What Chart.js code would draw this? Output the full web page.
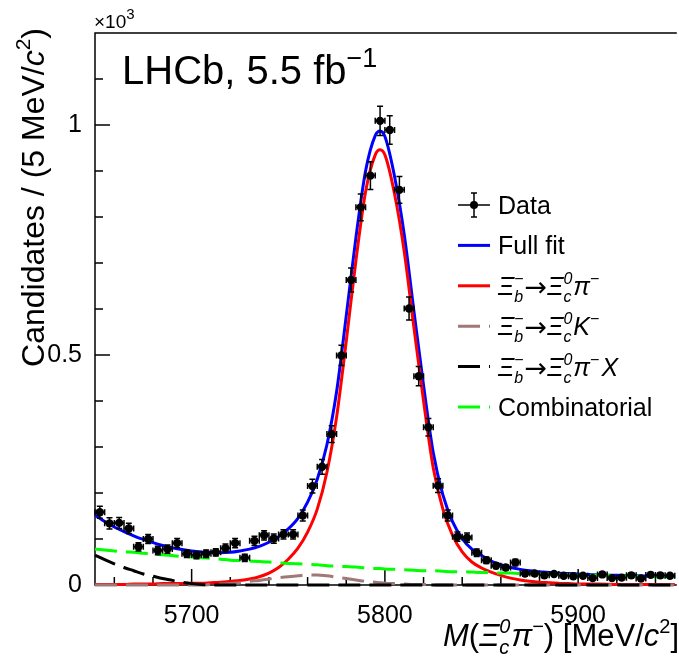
<!DOCTYPE html>
<html lang="en">
<head>
<meta charset="UTF-8">
<title>Xi_b- mass fit</title>
<script src="https://cdn.jsdelivr.net/npm/chart.js"></script>
<style>
  html, body { margin: 0; padding: 0; background: #fff; }
  #wrap { width: 679px; height: 656px; }
</style>
</head>
<body>
<div id="wrap"><canvas id="massChart" width="679" height="656"></canvas></div>
<script>
// binned data (5 MeV bins)
const binCenters = [
  5652.5, 5657.5, 5662.5, 5667.5, 5672.5, 5677.5, 5682.5, 5687.5, 5692.5, 5697.5,
  5702.5, 5707.5, 5712.5, 5717.5, 5722.5, 5727.5, 5732.5, 5737.5, 5742.5, 5747.5,
  5752.5, 5757.5, 5762.5, 5767.5, 5772.5, 5777.5, 5782.5, 5787.5, 5792.5, 5797.5,
  5802.5, 5807.5, 5812.5, 5817.5, 5822.5, 5827.5, 5832.5, 5837.5, 5842.5, 5847.5,
  5852.5, 5857.5, 5862.5, 5867.5, 5872.5, 5877.5, 5882.5, 5887.5, 5892.5, 5897.5,
  5902.5, 5907.5, 5912.5, 5917.5, 5922.5, 5927.5, 5932.5, 5937.5, 5942.5, 5947.5
];
const counts = [
  158, 134, 135, 123, 83, 100, 75, 78, 91, 68,
  65, 68, 71, 80, 91, 59, 96, 108, 101, 110,
  110, 151, 215, 257, 328, 499, 663, 821, 890, 1009,
  989, 859, 601, 454, 343, 216, 151, 105, 103, 70,
  54, 42, 38, 49, 25, 25, 21, 24, 20, 19,
  20, 15, 23, 15, 16, 21, 14, 22, 21, 20
];
const countErrs = [
  13, 12, 12, 11, 9, 10, 9, 9, 10, 8,
  8, 8, 8, 9, 10, 8, 10, 10, 10, 10,
  10, 12, 15, 16, 18, 22, 26, 29, 30, 32,
  31, 29, 25, 21, 19, 15, 12, 10, 10, 8,
  7, 6, 6, 7, 5, 5, 5, 5, 4, 4,
  4, 4, 5, 4, 4, 5, 4, 5, 5, 4
];
const binHalf = 2.5;

// fit curves
const curveX = [
  5650, 5655, 5660, 5665, 5670, 5675, 5680, 5685, 5690, 5695,
  5700, 5705, 5710, 5715, 5720, 5725, 5730, 5735, 5740, 5745,
  5750, 5755, 5760, 5765, 5770, 5775, 5780, 5785, 5790, 5795,
  5797.5, 5800, 5805, 5810, 5815, 5820, 5825, 5830, 5835, 5840,
  5845, 5850, 5855, 5860, 5865, 5870, 5875, 5880, 5885, 5890,
  5895, 5900, 5910, 5920, 5930, 5940, 5950
];
const fullFit = [
  152, 138, 126, 116, 107, 99, 92, 86, 81, 77,
  74, 72, 71, 70, 71, 74, 78, 84, 93, 105,
  122, 145, 180, 230, 305, 420, 585, 755, 900, 977,
  987, 975, 888, 762, 596, 434, 288, 196, 138, 101,
  78, 64, 52, 44, 38, 34, 31, 29, 27, 25.5,
  25, 24, 22, 21, 20, 19, 18
];
const signal = [
  1, 1, 1, 1, 2, 2, 2, 3, 3, 3,
  4, 4, 5, 6, 8, 10, 13, 18, 26, 38,
  56, 80, 115, 165, 245, 365, 530, 705, 855, 935,
  946, 935, 850, 725, 560, 400, 255, 165, 108, 72,
  50, 37, 28, 21, 15, 11, 8, 6, 5, 4,
  3, 2, 2, 1, 1, 1, 1
];
const kaonMisid = [
  0, 0, 0, 0, 0, 0, 0, 0, 0, 0,
  0, 0, 1, 2, 3, 5, 8, 10, 13, 16,
  18, 20, 22, 22, 20, 17, 14, 11, 8, 6,
  5, 4, 3, 2, 1, 1, 0, 0, 0, 0,
  0, 0, 0, 0, 0, 0, 0, 0, 0, 0,
  0, 0, 0, 0, 0, 0, 0
];
const partReco = [
  65, 55, 46, 38, 31, 24, 19, 14, 10, 6,
  3, 1, 0, 0, 0, 0, 0, 0, 0, 0,
  0, 0, 0, 0, 0, 0, 0, 0, 0, 0,
  0, 0, 0, 0, 0, 0, 0, 0, 0, 0,
  0, 0, 0, 0, 0, 0, 0, 0, 0, 0,
  0, 0, 0, 0, 0, 0, 0
];
const combinatorial = [
  78, 76, 74, 72, 71, 69, 67, 66, 64, 62,
  61, 59, 58, 56, 54, 53, 52, 51, 50, 48,
  47, 46, 45, 44, 42, 41, 40, 39, 37, 36,
  36, 35, 34, 33, 32, 31, 31, 30, 29, 29,
  28, 27, 27, 26, 26, 25, 25, 24, 24, 23,
  23, 22, 21, 20, 19, 18, 18
];

// axes
const xMajorTicks = [5700, 5800, 5900];
const xMinorTicks = [5660, 5680, 5720, 5740, 5760, 5780, 5820, 5840, 5860, 5880, 5920, 5940];
const yMajorTicks = [0, 500, 1000];
const yTickLabels = ['0', '0.5', '1'];
const yMinorTicks = [100, 200, 300, 400, 600, 700, 800, 900, 1100];

const FAM = '"Liberation Sans", Arial, Helvetica, sans-serif';
const ARROW_FAM = '"DejaVu Sans", sans-serif';
const BLUE = '#0000ff', RED = '#ff0000', GREEN = '#00ff00', BROWN = '#a07878', DASH = [22, 9];

function pts(ys) { return curveX.map((x, i) => ({ x: x, y: ys[i] })); }
function fnt(q) { return (q.it ? 'italic ' : '') + q.s + 'px ' + (q.fam || FAM); }

// rich text: parts are {t,s,it,dy} or {stack:[...]}
function partW(ctx, p) {
  const list = p.stack || [p];
  let w = 0;
  for (const q of list) { ctx.font = fnt(q); w = Math.max(w, ctx.measureText(q.t).width); }
  return w + (p.pad || 0);
}
function drawRich(ctx, parts, x, y, align) {
  let total = 0;
  for (const p of parts) total += partW(ctx, p);
  let cx = align === 'right' ? x - total : x;
  ctx.textAlign = 'left';
  ctx.textBaseline = 'alphabetic';
  for (const p of parts) {
    for (const q of (p.stack || [p])) {
      ctx.font = fnt(q);
      ctx.fillText(q.t, cx, y + (q.dy || 0));
    }
    cx += partW(ctx, p);
  }
}

function decay(tail) {
  return [
    { t: 'Ξ', s: 25, it: true },
    { stack: [{ t: '−', s: 16, dy: -11 }, { t: 'b', s: 16, it: true, dy: 7 }], pad: 1 },
    { t: '→', s: 27, fam: ARROW_FAM, dy: 1 },
    { t: 'Ξ', s: 25, it: true },
    { stack: [{ t: '0', s: 16, it: true, dy: -11 }, { t: 'c', s: 16, it: true, dy: 7 }], pad: 1 }
  ].concat(tail);
}
const legendItems = [
  { kind: 'data', label: [{ t: 'Data', s: 25 }] },
  { color: BLUE, dash: [], label: [{ t: 'Full fit', s: 25 }] },
  { color: RED, dash: [], label: decay([{ t: 'π', s: 25, it: true }, { t: '−', s: 16, dy: -11 }]) },
  { color: BROWN, dash: DASH, label: decay([{ t: 'K', s: 25, it: true }, { t: '−', s: 16, dy: -11 }]) },
  { color: '#000000', dash: DASH, label: decay([{ t: 'π', s: 25, it: true }, { t: '−', s: 16, dy: -11, pad: 2 }, { t: 'X', s: 25, it: true }]) },
  { color: GREEN, dash: DASH, label: [{ t: 'Combinatorial', s: 25 }] }
];

const errorBars = {
  id: 'errorBars',
  beforeDatasetDraw(chart, args) {
    if (args.index !== 0) return;
    const ctx = chart.ctx, xs = chart.scales.x, ys = chart.scales.y;
    ctx.save();
    ctx.strokeStyle = '#000';
    ctx.lineWidth = 1.5;
    ctx.beginPath();
    binCenters.forEach((c, i) => {
      const px = xs.getPixelForValue(c);
      const y0 = ys.getPixelForValue(counts[i]);
      const yl = ys.getPixelForValue(counts[i] - countErrs[i]);
      const yh = ys.getPixelForValue(counts[i] + countErrs[i]);
      const xl = xs.getPixelForValue(c - binHalf);
      const xh = xs.getPixelForValue(c + binHalf);
      ctx.moveTo(px, yl); ctx.lineTo(px, yh);
      ctx.moveTo(px - 3, yl); ctx.lineTo(px + 3, yl);
      ctx.moveTo(px - 3, yh); ctx.lineTo(px + 3, yh);
      ctx.moveTo(xl, y0); ctx.lineTo(xh, y0);
      ctx.moveTo(xl, y0 - 3); ctx.lineTo(xl, y0 + 3);
      ctx.moveTo(xh, y0 - 3); ctx.lineTo(xh, y0 + 3);
    });
    ctx.stroke();
    ctx.restore();
  }
};

const frame = {
  id: 'frame',
  beforeDatasetsDraw(chart) {
    const ctx = chart.ctx, a = chart.chartArea, xs = chart.scales.x, ys = chart.scales.y;
    ctx.save();
    ctx.strokeStyle = '#000';
    ctx.lineWidth = 1.5;
    ctx.beginPath();
    ctx.moveTo(a.right + 2, a.top); ctx.lineTo(a.left, a.top);
    ctx.lineTo(a.left, a.bottom); ctx.lineTo(a.right + 2, a.bottom);
    xMajorTicks.forEach(v => { const p = xs.getPixelForValue(v); ctx.moveTo(p, a.bottom); ctx.lineTo(p, a.bottom - 16); });
    xMinorTicks.forEach(v => { const p = xs.getPixelForValue(v); ctx.moveTo(p, a.bottom); ctx.lineTo(p, a.bottom - 8); });
    yMajorTicks.forEach(v => { const p = ys.getPixelForValue(v); ctx.moveTo(a.left, p); ctx.lineTo(a.left + 15, p); });
    yMinorTicks.forEach(v => { const p = ys.getPixelForValue(v); ctx.moveTo(a.left, p); ctx.lineTo(a.left + 8, p); });
    ctx.stroke();
    ctx.restore();
  },
  afterDraw(chart) {
    const ctx = chart.ctx;
    ctx.save();
    ctx.fillStyle = '#000';
    // exponent
    drawRich(ctx, [{ t: '×10', s: 19 }, { t: '3', s: 15, dy: -9 }], 94, 28);
    // experiment label
    drawRich(ctx, [{ t: 'LHCb, 5.5 fb', s: 40 }, { t: '−1', s: 27, dy: -17 }], 122, 84);
    // x title
    drawRich(ctx, [
      { t: 'M', s: 31, it: true }, { t: '(', s: 31 }, { t: 'Ξ', s: 31, it: true },
      { stack: [{ t: '0', s: 20, it: true, dy: -13 }, { t: 'c', s: 20, it: true, dy: 8 }], pad: 1 },
      { t: 'π', s: 31, it: true }, { t: '−', s: 20, dy: -13 }, { t: ') [MeV/', s: 31 },
      { t: 'c', s: 31, it: true }, { t: '2', s: 20, dy: -13 }, { t: ']', s: 31 }
    ], 679, 646, 'right');
    // y title
    ctx.translate(44, 28);
    ctx.rotate(-Math.PI / 2);
    drawRich(ctx, [
      { t: 'Candidates / (5 MeV/', s: 32 }, { t: 'c', s: 32, it: true },
      { t: '2', s: 21, dy: -14 }, { t: ')', s: 32 }
    ], 0, 0, 'right');
    ctx.restore();

    // legend
    ctx.save();
    const lx0 = 458, lx1 = 490, tx = 498;
    legendItems.forEach((it, i) => {
      const cy = 205 + i * 40.4;
      if (it.kind === 'data') {
        ctx.strokeStyle = '#000'; ctx.lineWidth = 1.5;
        ctx.beginPath();
        ctx.moveTo(lx0, cy); ctx.lineTo(lx1, cy);
        ctx.moveTo(474, cy - 12); ctx.lineTo(474, cy + 12);
        ctx.moveTo(471, cy - 12); ctx.lineTo(477, cy - 12);
        ctx.moveTo(471, cy + 12); ctx.lineTo(477, cy + 12);
        ctx.stroke();
        ctx.fillStyle = '#000';
        ctx.beginPath(); ctx.arc(474, cy, 4, 0, Math.PI * 2); ctx.fill();
      } else {
        ctx.strokeStyle = it.color; ctx.lineWidth = 3; ctx.setLineDash(it.dash);
        ctx.beginPath(); ctx.moveTo(lx0, cy); ctx.lineTo(lx1, cy); ctx.stroke();
        ctx.setLineDash([]);
      }
      ctx.fillStyle = '#000';
      drawRich(ctx, it.label, tx, cy + 9);
    });
    ctx.restore();
  }
};

function lineSet(label, ys, color, dash, order) {
  return {
    label: label, data: pts(ys), borderColor: color, borderWidth: 3, borderDash: dash,
    pointRadius: 0, fill: false, cubicInterpolationMode: 'monotone', clip: false, order: order
  };
}

new Chart(document.getElementById('massChart'), {
  type: 'line',
  data: {
    datasets: [
      {
        label: 'Data', data: binCenters.map((x, i) => ({ x: x, y: counts[i] })),
        showLine: false, pointRadius: 4.2, pointBackgroundColor: '#000', pointBorderWidth: 0, order: 0
      },
      lineSet('Combinatorial', combinatorial, GREEN, DASH, 1),
      lineSet('Partially reconstructed', partReco, '#000000', DASH, 2),
      lineSet('Misid K', kaonMisid, BROWN, DASH, 3),
      lineSet('Signal', signal, RED, [], 4),
      lineSet('Full fit', fullFit, BLUE, [], 5)
    ]
  },
  options: {
    responsive: false,
    animation: false,
    devicePixelRatio: 1,
    layout: { padding: { top: 33, left: 0, right: 0, bottom: 0 } },
    plugins: { legend: { display: false }, tooltip: { enabled: false } },
    scales: {
      x: {
        type: 'linear', min: 5650, max: 5950,
        afterBuildTicks: s => { s.ticks = xMajorTicks.map(v => ({ value: v })); },
        afterFit: s => { s.height = 71; },
        grid: { display: false }, border: { display: false },
        ticks: { font: { family: FAM, size: 25 }, color: '#000', padding: 8, maxRotation: 0, autoSkip: false, callback: v => v.toFixed(0) }
      },
      y: {
        type: 'linear', min: 0, max: 1200,
        afterBuildTicks: s => { s.ticks = yMajorTicks.map(v => ({ value: v })); },
        afterFit: s => { s.width = 95; },
        grid: { display: false }, border: { display: false },
        ticks: { font: { family: FAM, size: 25 }, color: '#000', padding: 5, callback: v => yTickLabels[yMajorTicks.indexOf(v)] }
      }
    }
  },
  plugins: [errorBars, frame]
});
</script>
</body>
</html>
